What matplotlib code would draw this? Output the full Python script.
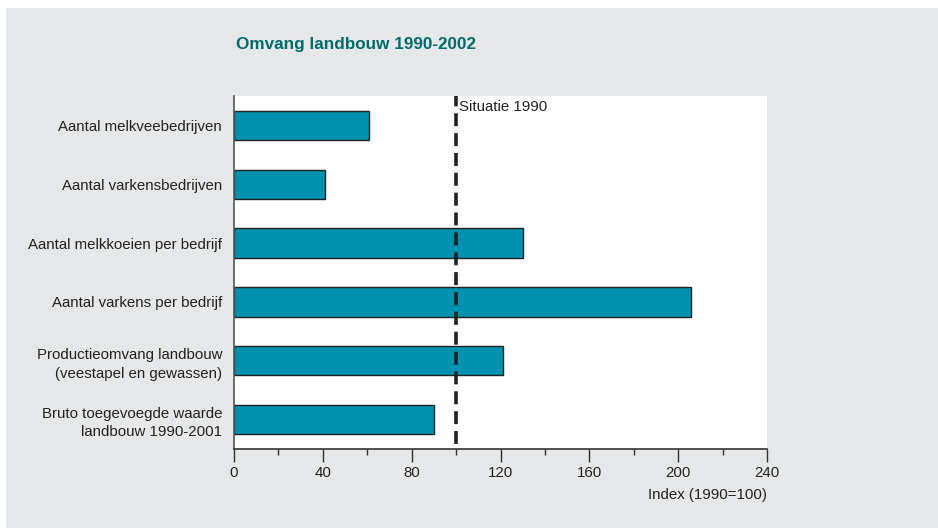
import matplotlib.pyplot as plt
from matplotlib.ticker import MultipleLocator
from matplotlib.patches import Rectangle

plt.rcParams['font.family'] = ['Liberation Sans Narrow', 'Liberation Sans', 'DejaVu Sans']

# Index values, 1990 = 100
categories = [
    "Aantal melkveebedrijven",
    "Aantal varkensbedrijven",
    "Aantal melkkoeien per bedrijf",
    "Aantal varkens per bedrijf",
    "Productieomvang landbouw\n(veestapel en gewassen)",
    "Bruto toegevoegde waarde\nlandbouw 1990-2001",
]
values = [61, 41, 130, 206, 121, 90]
reference_year = 100
xticks = [0, 40, 80, 120, 160, 200, 240]

bg = "#e6e7e8"
bar_color = "#0092ae"
title_color = "#006b6b"
text_color = "#222222"

fig = plt.figure(figsize=(9.38, 5.28), dpi=100)
fig.patch.set_facecolor("white")
fig.patches.append(Rectangle((6 / 938, 0), 1, 1 - 8 / 528, transform=fig.transFigure,
                             facecolor=bg, edgecolor="none", zorder=-10))

ax = fig.add_axes([234 / 938, 1 - 449 / 528, 533 / 938, 353 / 528])
ax.set_facecolor("white")

y = list(range(len(categories)))
ax.barh(y, values, height=0.5, color=bar_color, edgecolor=text_color, linewidth=1.0, zorder=2)
ax.axvline(reference_year, ymin=0.013, ymax=1, color=text_color, linewidth=2.6,
           dashes=(3.6, 1.9), zorder=3)
ax.text(reference_year + 1.3, -0.5 + 0.18, "Situatie 1990", fontsize=10.8,
        va="center", ha="left", color=text_color)

ax.set_ylim(len(categories) - 0.5, -0.5)
ax.set_xlim(0, 240)
ax.set_yticks(y)
ax.set_yticklabels(categories, fontsize=10.8, color=text_color, linespacing=1.4)
ax.set_xticks(xticks)
ax.set_xticklabels([str(t) for t in xticks], fontsize=10.8, color=text_color)
ax.xaxis.set_minor_locator(MultipleLocator(20))
ax.tick_params(axis="y", length=0, pad=8.5)
ax.tick_params(axis="x", which="major", length=9, width=1, color="#333333", pad=3)
ax.tick_params(axis="x", which="minor", length=4, width=1, color="#333333")

for side in ("top", "right"):
    ax.spines[side].set_visible(False)
ax.spines["left"].set_color("#555555")
ax.spines["left"].set_linewidth(1.2)
ax.spines["bottom"].set_color("#333333")
ax.spines["bottom"].set_linewidth(1.2)

fig.text(236 / 938, 1 - 44 / 528, "Omvang landbouw 1990-2002", fontsize=12.3,
         fontweight="bold", color=title_color, ha="left", va="center")
fig.text(767 / 938, 1 - 495 / 528, "Index (1990=100)", fontsize=10.8,
         color=text_color, ha="right", va="center")

fig.savefig("out.png", dpi=100, facecolor=fig.get_facecolor())
